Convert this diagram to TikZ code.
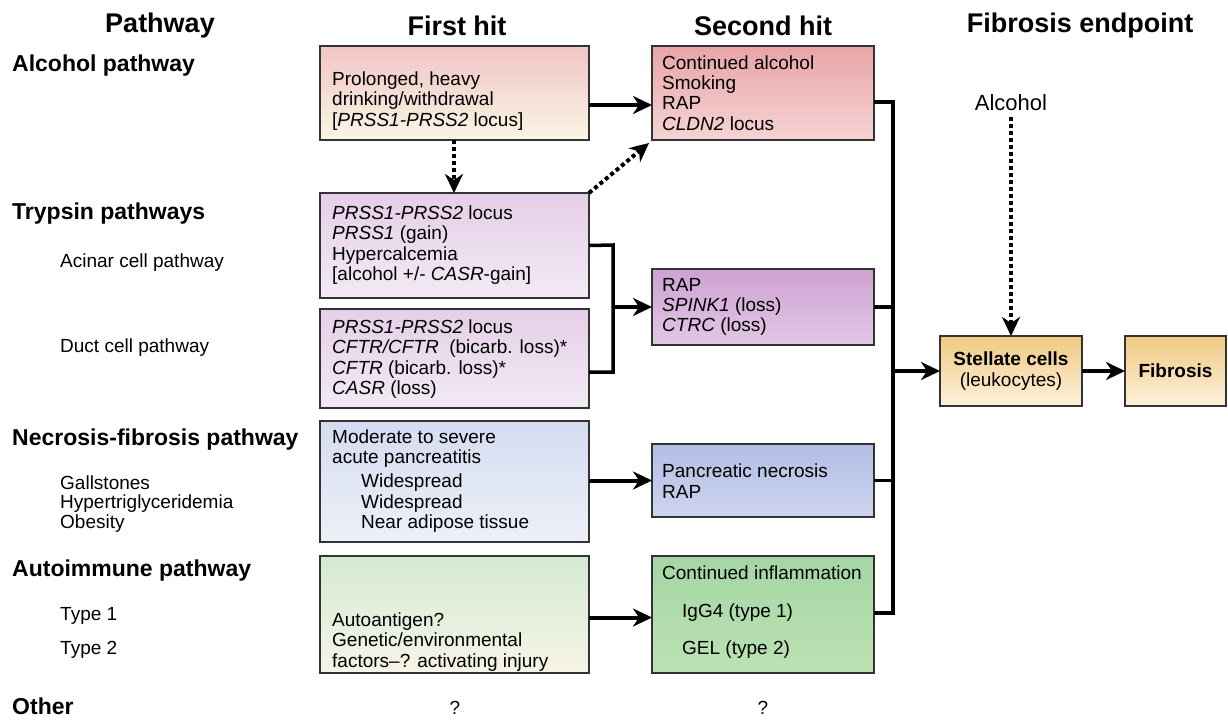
\documentclass[tikz,border=0pt]{standalone}
\usepackage{fontspec}
\setmainfont{Liberation Sans}
\usetikzlibrary{arrows.meta}
\begin{document}
\begin{tikzpicture}[x=1pt,y=1pt,
  box/.style={draw=black!80, line width=1.6pt, rectangle, anchor=north west, inner sep=0pt, outer sep=0pt},
  body/.style={font=\fontsize{19}{20.3}\selectfont, align=left, inner sep=0pt, anchor=west},
  head/.style={font=\bfseries\fontsize{27}{30}\selectfont, inner sep=0pt},
  plabel/.style={font=\bfseries\fontsize{23}{26}\selectfont, inner sep=0pt, anchor=west},
  sublabel/.style={font=\fontsize{19}{19.5}\selectfont, inner sep=0pt, anchor=west, align=left},
  arr/.style={line width=4pt, -{Stealth[length=19pt,width=18pt,inset=6pt]}},
  darr/.style={line width=4pt, dash pattern=on 4pt off 3pt, -{Stealth[length=19pt,width=18pt,inset=6pt]}},
  link/.style={line width=3.5pt},
]
\useasboundingbox[fill=white] (0,0) rectangle (1228,-720);

% headers
\node[head] (h1) at (160,-26) {Pathway};
\node[head] (h2) at (457,-26) {First hit};
\node[head] (h3) at (763,-26) {Second hit};
\node[head] (h4) at (1080,-26) {Fibrosis endpoint};

% left labels
\node[plabel] (l1) at (12,-66) {Alcohol pathway};
\node[plabel] (l2) at (12,-214) {Trypsin pathways};
\node[sublabel] (l2a) at (60,-263) {Acinar cell pathway};
\node[sublabel] (l2b) at (60,-348) {Duct cell pathway};
\node[plabel] (l3) at (12,-440) {Necrosis-fibrosis pathway};
\node[sublabel] (l3a) at (60,-504) {Gallstones\\Hypertriglyceridemia\\Obesity};
\node[plabel] (l4) at (12,-571) {Autoimmune pathway};
\node[sublabel] (l4a) at (60,-616) {Type 1};
\node[sublabel] (l4b) at (60,-650) {Type 2};
\node[plabel] (l5) at (12,-706) {Other};
\node[sublabel, anchor=center] (q1) at (455,-708) {?};
\node[sublabel, anchor=center] (q2) at (763,-708) {?};

% boxes
\node[box, minimum width=269pt, minimum height=94pt, top color={rgb,255:red,240;green,196;blue,198}, bottom color={rgb,255:red,250;green,246;blue,228}] (A1) at (320,-46) {};
\node[box, minimum width=222pt, minimum height=94pt, top color={rgb,255:red,232;green,164;blue,166}, bottom color={rgb,255:red,246;green,212;blue,212}] (A2) at (652,-46) {};
\node[box, minimum width=269pt, minimum height=105pt, top color={rgb,255:red,230;green,206;blue,232}, bottom color={rgb,255:red,242;green,234;blue,244}] (T1) at (320,-193) {};
\node[box, minimum width=269pt, minimum height=99pt, top color={rgb,255:red,230;green,206;blue,232}, bottom color={rgb,255:red,242;green,234;blue,244}] (T2) at (320,-309) {};
\node[box, minimum width=222pt, minimum height=76pt, top color={rgb,255:red,206;green,162;blue,210}, bottom color={rgb,255:red,226;green,200;blue,230}] (T3) at (652,-269) {};
\node[box, minimum width=269pt, minimum height=121pt, top color={rgb,255:red,212;green,220;blue,240}, bottom color={rgb,255:red,238;green,240;blue,248}] (N1) at (320,-421) {};
\node[box, minimum width=222pt, minimum height=73pt, top color={rgb,255:red,178;green,190;blue,228}, bottom color={rgb,255:red,204;green,212;blue,238}] (N2) at (652,-444) {};
\node[box, minimum width=269pt, minimum height=117pt, top color={rgb,255:red,212;green,234;blue,210}, bottom color={rgb,255:red,246;green,244;blue,230}] (I1) at (320,-556) {};
\node[box, minimum width=222pt, minimum height=117pt, top color={rgb,255:red,164;green,214;blue,164}, bottom color={rgb,255:red,188;green,226;blue,180}] (I2) at (652,-556) {};
\node[box, minimum width=142pt, minimum height=70pt, top color={rgb,255:red,240;green,200;blue,130}, bottom color={rgb,255:red,253;green,242;blue,220}] (S) at (940,-336) {};
\node[box, minimum width=101pt, minimum height=70pt, top color={rgb,255:red,240;green,200;blue,130}, bottom color={rgb,255:red,253;green,242;blue,220}] (F) at (1125,-336) {};

% box texts
\node[body] (A1t) at (332,-101) {Prolonged, heavy\\drinking/withdrawal\\{[}\textit{PRSS1-PRSS2} locus{]}};
\node[body] (A2t) at (662,-93) {Continued alcohol\\Smoking\\RAP\\\textit{CLDN2} locus};
\node[body] (T1t) at (332,-245) {\textit{PRSS1-PRSS2} locus\\\textit{PRSS1} (gain)\\Hypercalcemia\\{[}alcohol +/- \textit{CASR}-gain{]}};
\node[body] (T2t) at (332,-359) {\textit{PRSS1-PRSS2} locus\\\textit{CFTR/CFTR}\ \ (bicarb. loss)*\\\textit{CFTR} (bicarb. loss)*\\\textit{CASR} (loss)};
\node[body] (T3t) at (662,-307) {RAP\\\textit{SPINK1} (loss)\\\textit{CTRC} (loss)};
\node[body] (N1t) at (332,-481) {Moderate to severe\\acute pancreatitis\\[4pt]\hspace*{29pt}Widespread\\\hspace*{29pt}Widespread\\\hspace*{29pt}Near adipose tissue};
\node[body] (N2t) at (662,-481) {Pancreatic necrosis\\RAP};
\node[body] (I1t) at (332,-642) {Autoantigen?\\Genetic/environmental\\factors--? activating injury};
\node[body] (I2t) at (662,-612) {Continued inflammation\\[18pt]\hspace*{20pt}IgG4 (type 1)\\[16pt]\hspace*{20pt}GEL (type 2)};
\node[body, anchor=center, align=center] (St) at (S.center) {\textbf{Stellate cells}\\(leukocytes)};
\node[body, anchor=center] (Ft) at (F.center) {\textbf{Fibrosis}};
\node[body, anchor=center, font=\fontsize{22}{24}\selectfont] (alc) at (1011,-103) {Alcohol};

% connectors
\draw[arr] ([yshift=-12pt]A1.east) -- ([yshift=-12pt]A2.west);
\draw[darr] (A1.south -| 454,0) -- (T1.north -| 454,0);
\draw[darr] (T1.north east) -- ([shift={(-3pt,-3pt)}]A2.south west);
\draw[link] (T1.east) -- (613,-245) -- (613,-372) -- ([yshift=-13.5pt]T2.east);
\draw[arr] (613,-307) -- (T3.west);
\draw[arr] (N1.east |- N2.west) -- (N2.west);
\draw[arr] ([yshift=-3pt]I1.east) -- ([yshift=-3pt]I2.east -| I2.west);
\draw[link] ([yshift=-9pt]A2.east) -- (893,-102) -- (893,-613) -- ([yshift=1.5pt]I2.east);
\draw[link] (T3.east) -- (893,-307);
\draw[link] (N2.east) -- (893,-480.5);
\draw[arr] (891,-371) -- (S.west);
\draw[arr] (S.east) -- (F.west);
\draw[darr] (alc.south) ++(0,-6) -- (S.north);
\end{tikzpicture}
\end{document}
